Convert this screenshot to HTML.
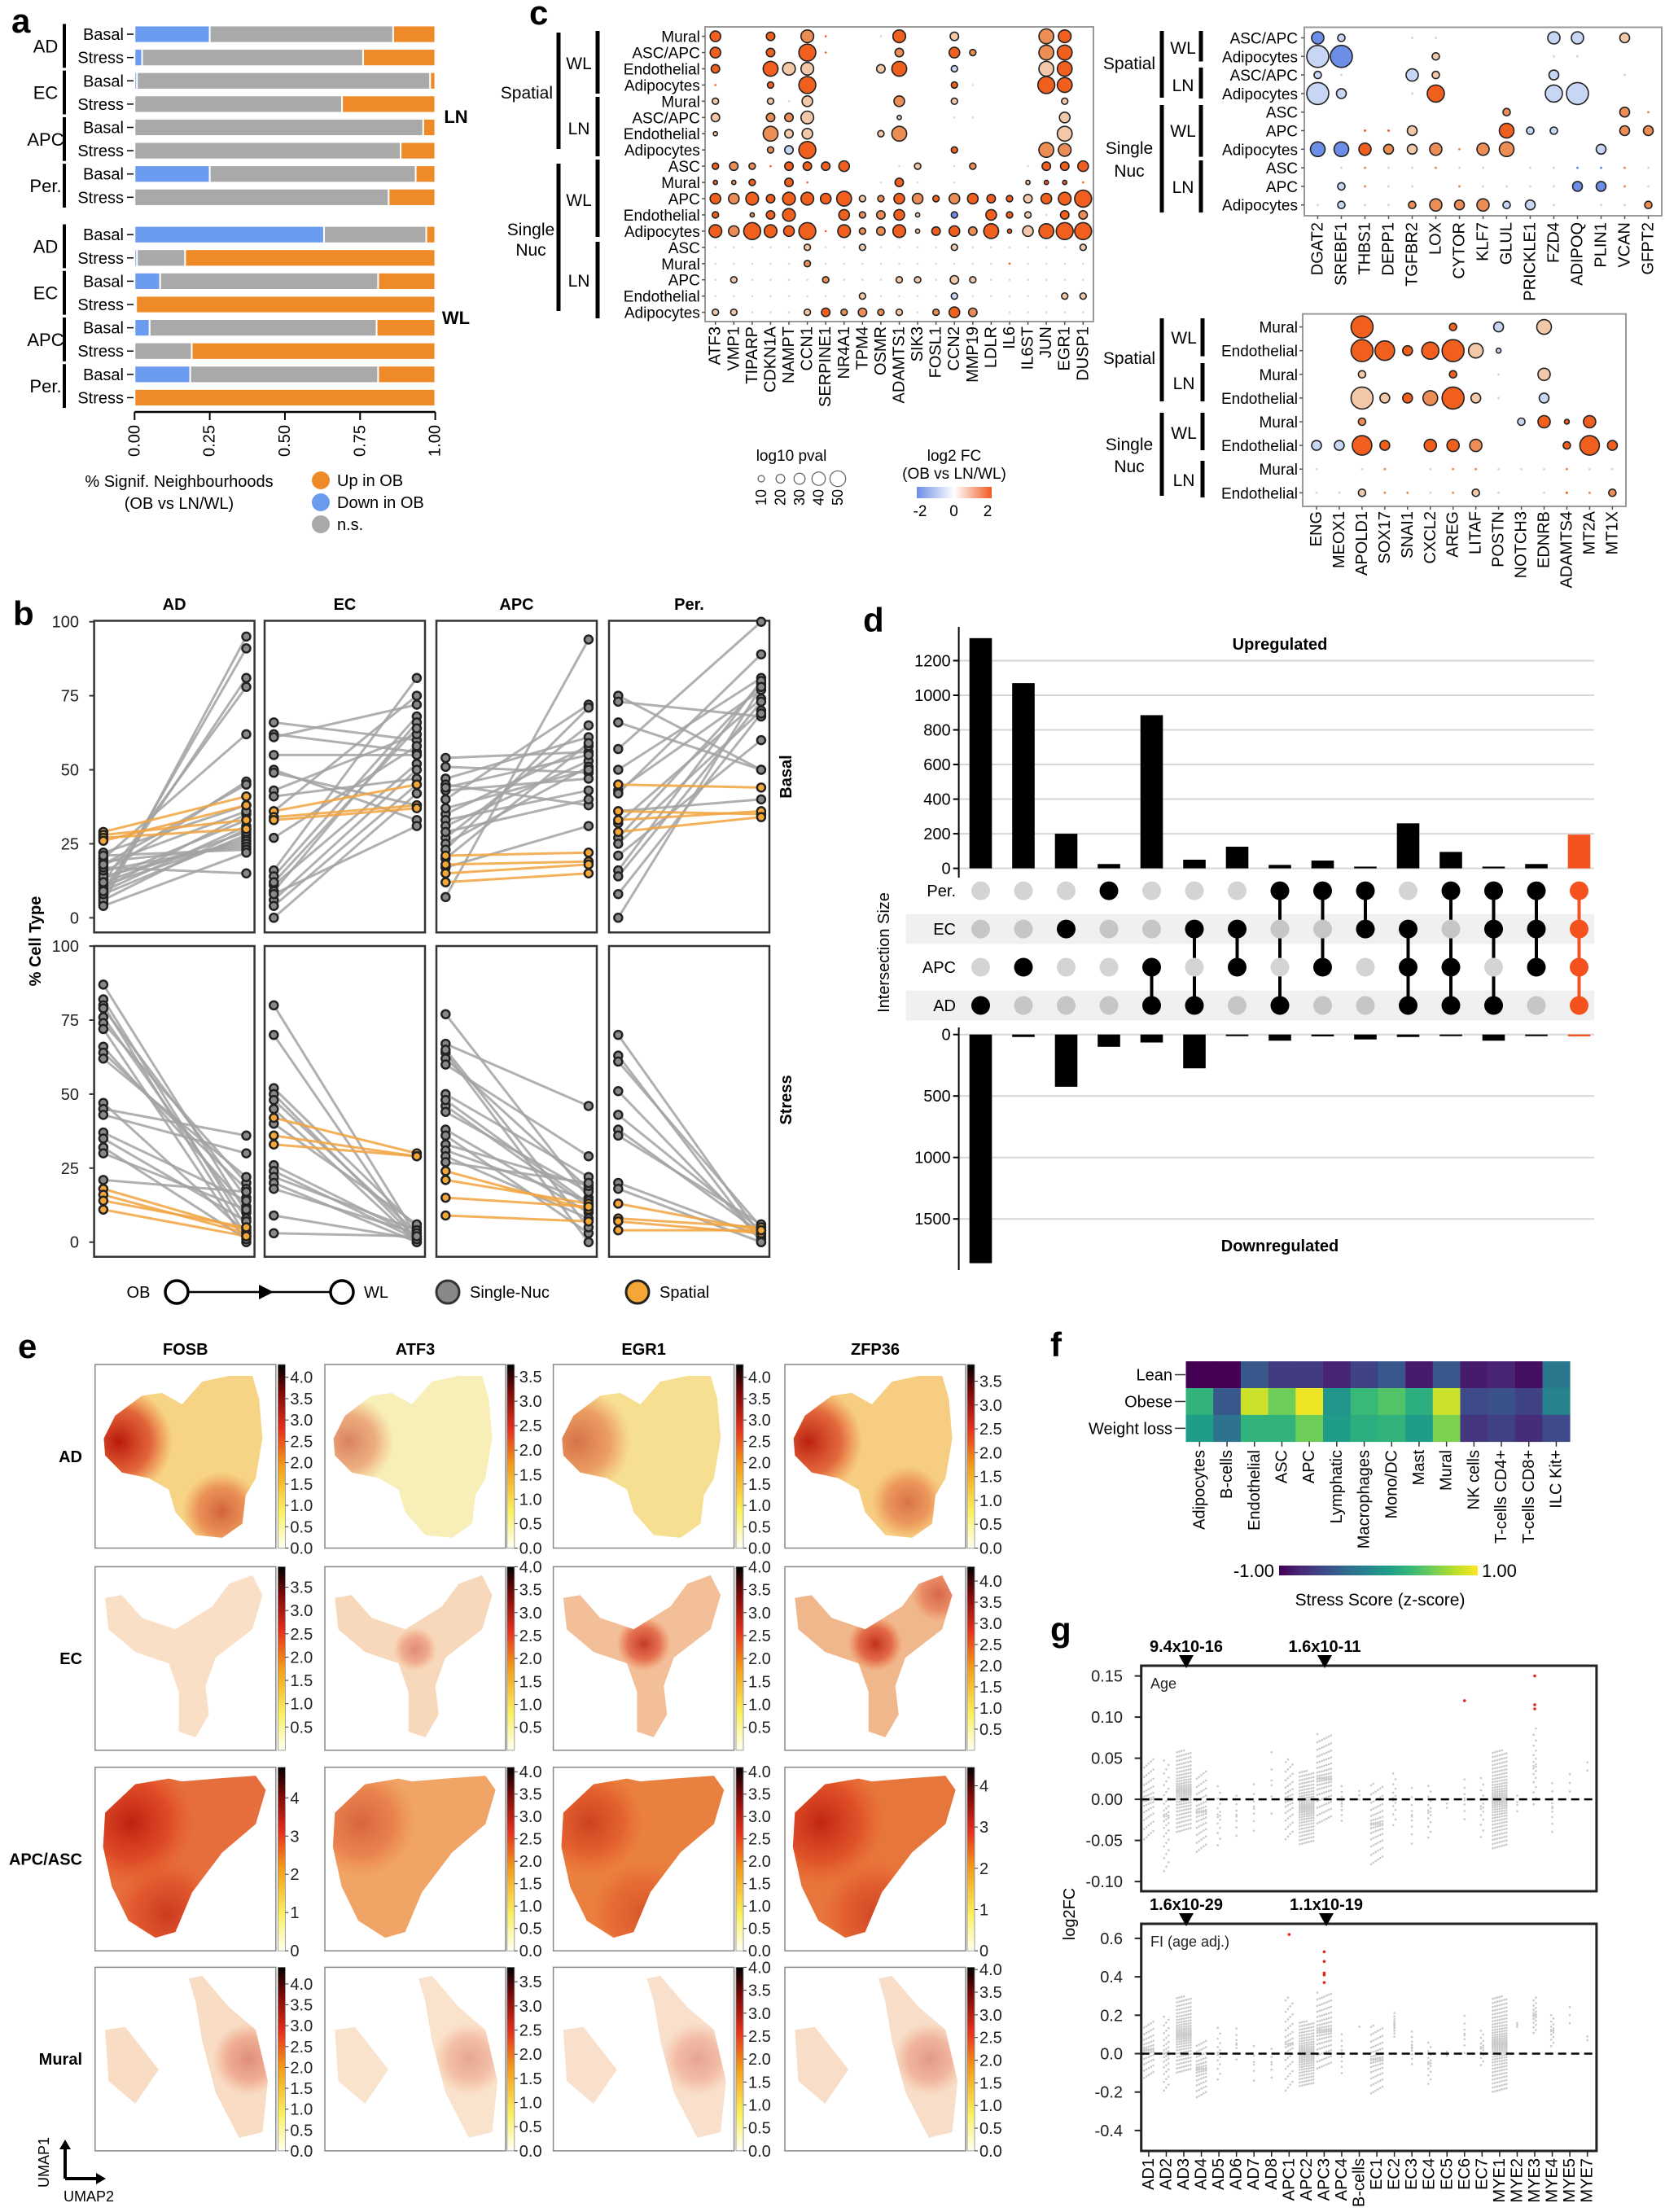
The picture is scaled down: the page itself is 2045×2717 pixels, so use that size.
<!DOCTYPE html>
<html><head><meta charset="utf-8">
<style>
html,body{margin:0;padding:0;background:#fff}
svg{display:block;font-family:"Liberation Sans",Arial,sans-serif}
</style></head>
<body>
<svg id="fig" width="2045" height="2717" viewBox="0 0 2045 2717">
<defs>
<linearGradient id="hotcb" x1="0" y1="1" x2="0" y2="0">
<stop offset="0" stop-color="#fffff2"/><stop offset="0.2" stop-color="#faf060"/><stop offset="0.45" stop-color="#f39c1a"/><stop offset="0.65" stop-color="#e5301c"/><stop offset="0.85" stop-color="#7a0a08"/><stop offset="1" stop-color="#000"/>
</linearGradient>
<linearGradient id="fccb" x1="0" y1="0" x2="1" y2="0"><stop offset="0" stop-color="#6d8ee6"/><stop offset="0.5" stop-color="#ffffff"/><stop offset="1" stop-color="#f15a22"/></linearGradient>
<linearGradient id="vircb" x1="0" y1="0" x2="1" y2="0">
<stop offset="0" stop-color="#440154"/><stop offset="0.11" stop-color="#482878"/><stop offset="0.22" stop-color="#3e4989"/><stop offset="0.33" stop-color="#31688e"/><stop offset="0.44" stop-color="#26828e"/><stop offset="0.55" stop-color="#1f9e89"/><stop offset="0.66" stop-color="#35b779"/><stop offset="0.77" stop-color="#6ece58"/><stop offset="0.88" stop-color="#b5de2b"/><stop offset="1" stop-color="#fde725"/>
</linearGradient>
<radialGradient id="hotR"><stop offset="0" stop-color="#b8180a" stop-opacity="1"/><stop offset="0.6" stop-color="#d9361a" stop-opacity="0.7"/><stop offset="1" stop-color="#e8501c" stop-opacity="0"/></radialGradient>
<radialGradient id="hotO"><stop offset="0" stop-color="#e8581e" stop-opacity="0.9"/><stop offset="1" stop-color="#f08a2c" stop-opacity="0"/></radialGradient>
</defs>
</svg>
<script>
const NS='http://www.w3.org/2000/svg';
const fig=document.getElementById('fig');
const defs=fig.querySelector('defs');
function mk(tag,attrs,parent){const e=document.createElementNS(NS,tag);for(const k in attrs)e.setAttribute(k,attrs[k]);(parent||fig).appendChild(e);return e;}
function tx(str,attrs,parent){const e=mk('text',attrs,parent);e.textContent=str;return e;}
function grp(name){const g=mk('g',{});


return g;}
function rtx(str,x,y,size,parent,anchor){return tx(str,{x:0,y:0,transform:`translate(${x},${y}) rotate(-90)`,'text-anchor':anchor||'end','dominant-baseline':'central','font-size':size},parent);}

/* ================= PANEL A data ================= */
const aCellTypes=['AD','EC','APC','Per.'];
const aConds=['Basal','Stress'];
const aDownLN=[0.25,0.025,0.008,0,0,0,0.25,0];
const aNsLN=[0.61,0.735,0.975,0.69,0.96,0.885,0.685,0.845];
const aDownWL=[0.63,0.008,0.085,0,0.05,0,0.185,0];
const aNsWL=[0.34,0.16,0.725,0.005,0.755,0.19,0.625,0];
const aTicks=['0.00','0.25','0.50','0.75','1.00'];

/* ================= PANEL B data ================= */
const bCells=['AD','EC','APC','Per.'];
const bGreyOB=[
[5,7,9,12,20,15,18,22,10,13,6,8,11,14,16,19,21,4,17,12,9,18],
[66,62,61,55,50,49,43,41,36,27,16,14,11,9,6,4,0,8,12],
[54,51,47,45,43,40,35,33,31,27,25,23,7,20,29,17,44,37],
[75,73,66,57,50,43,42,36,32,27,25,21,16,14,8,0],
[87,82,80,79,76,74,72,66,64,62,47,45,43,37,35,32,30,21],
[80,70,52,50,48,45,40,26,24,22,20,18,9,3],
[77,67,64,62,60,50,46,44,38,36,33,31,29,27,65,48],
[70,63,61,51,43,38,36,20,18]];
const bGreyWL=[
[95,91,81,78,62,46,45,38,35,33,30,28,27,26,25,24,23,22,15,29,31,36],
[60,56,72,55,33,38,62,47,75,58,81,68,52,66,50,45,42,31,64],
[56,49,61,38,47,72,58,43,53,65,51,71,94,59,40,31,55,50],
[50,68,50,100,81,77,89,40,74,79,70,60,80,73,69,78],
[10,5,2,15,8,20,0,12,18,22,3,36,30,14,7,1,11,17],
[2,0,5,1,3,0,6,2,1,4,0,3,1,2],
[15,46,0,18,29,22,12,17,10,3,19,14,8,20,5,13],
[2,0,5,1,4,3,6,2,0]];
const bSpOB=[[29,28,27,26],[36,34,33],[21,18,15,12],[45,36,33,29],[18,16,14,11],[42,36,33],[24,21,15,9],[13,8,7,4]];
const bSpWL=[[41,33,30,38],[45,38,37],[22,19,18,15],[44,35,36,34],[4,3,5,2],[30,29,29],[11,13,12,7],[4,5,3,4]];
const bTicks=[0,25,50,75,100];

/* ================= PANEL C data ================= */
const cGenesL=['ATF3','VMP1','TIPARP','CDKN1A','NAMPT','CCN1','SERPINE1','NR4A1','TPM4','OSMR','ADAMTS1','SIK3','FOSL1','CCN2','MMP19','LDLR','IL6','IL6ST','JUN','EGR1','DUSP1'];
const cRowsL=['Mural','ASC/APC','Endothelial','Adipocytes','Mural','ASC/APC','Endothelial','Adipocytes','ASC','Mural','APC','Endothelial','Adipocytes','ASC','Mural','APC','Endothelial','Adipocytes'];
const cDotsL=[
'5o - - 4o - 6m 1o - - 1f 6o - - 4l - - - - 7m 6o -',
'5o - - 4o - 8o 1o - - - 4m - - 5o 3m - - - 7m 7o -',
'4o - - 7o 6l 6l - - - 4l 7o - - 3b - - - - 7l 7o -',
'1o - - 3o - 8o - - - - - - - 3o 1f - - - 8o 7o -',
'3l - - 3l 1f 5l - - - - 5m - - 3l - - - - - 3l -',
'4l - - 4m 4m 6l - - - - 2l - - 1f 1f - - - - 5l -',
'2l - - 7m 4l 5l - - - 3l 7m - - - - - - - - 7l -',
'- - - 3m 4b 8o - - - - - - - 3o - - - - 7m 6m -',
'3o 4m 3m 1o 4o 4o 4o 5o - - 1f 3l - 1f 3m - - 1f 4o 4o 5o',
'2o 2m 3o - 4o 1o - - - 1f 4o 1f - 1f - - - 2l 2o 2o 1o',
'5o 5m 6o 4o 6o 6o 5o 7o 3l 3m 5o 5m 3o 5m 5o 4o 3o 4l 5o 6o 8o',
'3o - 2m 4o 6o - - 5o 3m 4m 5o 2l - 3B - 5o 3o 3l 1f 4o 4m',
'6o 5m 8o 6o 5o 8o 1o 6o 3m 4m 6o 2l 4o 5o 4m 7o 2o 5l 7o 8o 8o',
'1f 1f 1f 1f 1f 3l 1f 1f 3l 1f 1f 1f 1f 3l 1f 1f 1f 1f 1f 1f 3l',
'1f 1f 1f 1f 1f 3m 1f 1f 1f 1f 1f 1f 1f 1f 1f 1f 1o 1f 1f 1f 1f',
'1f 3l 1f 1f 1f 1f 3m 1f 1f 1f 3l 3l 1f 4l 3l 1f 1f 1f 1f 1f 1f',
'1f 1f 1f 1f 1f 1f 1f 1f 3l 1f 1f 1f 1f 3b 1f 1f 1f 1f 1f 3l 3l',
'3l 3l 1f 1f 1f 3l 4o 3m 4m 3m 3l 1f 3m 5o 4m - 1f 1f 1f 1f 1f'];
const cGenesRT=['DGAT2','SREBF1','THBS1','DEPP1','TGFBR2','LOX','CYTOR','KLF7','GLUL','PRICKLE1','FZD4','ADIPOQ','PLIN1','VCAN','GFPT2'];
const cRowsRT=['ASC/APC','Adipocytes','ASC/APC','Adipocytes','ASC','APC','Adipocytes','ASC','APC','Adipocytes'];
const cDotsRT=[
'5B 3b - - 1f 1f - - - - 5b 5b - 4l -',
'9b 9B - - - 3l - - - - 1f 1f - - -',
'3b 1f - - 5b 3l - - - - 4b - - 1f -',
'9b 4b - - 1f 7o - - - - 7b 9b - - -',
'- - - - - - - - 3m - - - - 4m 1m',
'- - 1o 1o 4l - - - 6o 3b 3b - - 4m 4m',
'6B 6B 5o 4m 4l 5m 1m 5m 6m - - - 4b - -',
'- 1f 1m 1f 1f 1m 1f 1f - 1f 1f 1B 1B 1m 1f',
'- 3b 1m 1f 1f - 1m 1f 1f 1f 1f 4B 4B 1m 1f',
'1f 3b 1f 1f 3m 5m 4m 5m 3b 4b 1f - 1f 1f 3m'];
const cGenesRB=['ENG','MEOX1','APOLD1','SOX17','SNAI1','CXCL2','AREG','LITAF','POSTN','NOTCH3','EDNRB','ADAMTS4','MT2A','MT1X'];
const cRowsRB=['Mural','Endothelial','Mural','Endothelial','Mural','Endothelial','Mural','Endothelial'];
const cDotsRB=[
'- - 9o - - - 3o - 4b - 6l - - -',
'- - 9o 8o 4o 7o 9o 6l 2b - - - - -',
'- - 3l - - - 3o - 1f - 5l - - -',
'- - 9l 4l 4o 6m 9o 4l 1f - 4b - - -',
'- - 3m - - - - - - 3b 5o 2o 5o -',
'4b 4b 8o 4o - 5o 5o 5m - - - 3o 8o 4o',
'1f - 1f 1m - 1f 1m 1m 1f 1f 1f 1m 1f 1f',
'1f 1f 3l 1m 1m 1f 1m 3l 1b - 1f 1o 1m 3m'];
const cPvalLegend=[10,20,30,40,50];
const cFcTicks=['-2','0','2'];

/* ================= PANEL D data ================= */
const dUp=[1330,1070,200,25,885,50,125,20,45,10,260,95,10,25,195];
const dDown=[1860,20,425,100,65,275,5,50,15,40,20,10,50,10,15];
const dSets=['Per.','EC','APC','AD'];
const dPer=[0,0,0,1,0,0,0,1,1,1,0,1,1,1,1];
const dEC =[0,0,1,0,0,1,1,0,0,1,1,0,1,1,1];
const dAPC=[0,1,0,0,1,0,1,0,1,0,1,1,0,1,1];
const dAD =[1,0,0,0,1,1,0,1,0,0,1,1,1,0,1];
const dUpTicks=[0,200,400,600,800,1000,1200];
const dDownTicks=[0,500,1000,1500];

/* ================= PANEL E data ================= */
const eGenes=['FOSB','ATF3','EGR1','ZFP36'];
const eCells=['AD','EC','APC/ASC','Mural'];
const eCbMax=[[4.3,3.75,4.3,3.85],[3.94,4.0,4.0,4.34],[4.8,4.1,4.1,4.45],[4.4,3.8,4.0,4.05]];
const eCbTicks=[[[0,4,0.5,1],[0,3.5,0.5,1],[0,4,0.5,1],[0,3.5,0.5,1]],
[[0.5,3.5,0.5,1],[0.5,4,0.5,1],[0.5,4,0.5,1],[0.5,4,0.5,1]],
[[0,4,1,0],[0,4,0.5,1],[0,4,0.5,1],[0,4,1,0]],
[[0,4,0.5,1],[0,3.5,0.5,1],[0,4,0.5,1],[0,4,0.5,1]]];

/* ================= PANEL F data ================= */
const fCols=['Adipocytes','B-cells','Endothelial','ASC','APC','Lymphatic','Macrophages','Mono/DC','Mast','Mural','NK cells','T-cells CD4+','T-cells CD8+','ILC Kit+'];
const fRows=['Lean','Obese','Weight loss'];
const fLean=[-1,-1,-0.45,-0.65,-0.65,-0.8,-0.6,-0.45,-0.85,-0.45,-0.85,-0.8,-0.92,-0.2];
const fObese=[0.3,-0.45,0.85,0.55,0.95,0.05,0.35,0.45,0.25,0.85,-0.55,-0.5,-0.6,-0.1];
const fWL=[0.1,-0.25,0.3,0.3,0.55,0.1,0.25,0.3,0.1,0.6,-0.7,-0.6,-0.75,-0.55];

/* ================= PANEL G data ================= */
const gCats=['AD1','AD2','AD3','AD4','AD5','AD6','AD7','AD8','APC1','APC2','APC3','APC4','B-cells','EC1','EC2','EC3','EC4','EC5','EC6','EC7','MYE1','MYE2','MYE3','MYE4','MYE5','MYE7'];
const gAgeCenter=[0,-0.02,0.01,-0.015,-0.02,-0.02,-0.01,0.02,0,-0.01,0.025,-0.005,0.005,-0.03,0,-0.02,-0.015,-0.005,0,-0.01,0,-0.005,0.04,-0.01,0.02,0.04];
const gAgeSpread=[0.05,0.07,0.05,0.05,0.04,0.03,0.035,0.05,0.05,0.045,0.055,0.025,0.01,0.05,0.035,0.04,0.035,0.01,0.03,0.04,0.06,0.015,0.05,0.035,0.02,0.015];
const gAgeCount=[60,40,200,70,15,8,8,6,50,200,120,10,3,80,15,10,15,3,8,15,250,4,20,10,3,2];
const gAgeRedCat=[18,22,22,22];
const gAgeRedVal=[0.12,0.15,0.115,0.11];
const gFiCenter=[0.02,0,0.1,-0.08,0,0.05,-0.05,-0.05,0.05,0,0.12,0,0.14,-0.03,0.15,0.03,-0.05,0,0.1,0.03,0.05,0.15,0.2,0.12,0.2,0.08];
const gFiSpread=[0.15,0.2,0.2,0.15,0.15,0.1,0.12,0.1,0.25,0.17,0.2,0.12,0.01,0.18,0.07,0.1,0.12,0.02,0.12,0.1,0.25,0.02,0.1,0.09,0.08,0.03];
const gFiCount=[60,40,200,70,15,8,6,6,50,200,120,10,1,80,12,10,15,3,8,15,250,3,20,15,3,2];
const gFiRedCat=[8,10,10,10,10,10];
const gFiRedVal=[0.62,0.53,0.48,0.42,0.41,0.37];
const gAgeTicks=[0.15,0.10,0.05,0,-0.05,-0.10];
const gFiTicks=[0.6,0.4,0.2,0,-0.2,-0.4];

/* ---------- panel letters ---------- */
const letters=[['a',14,40],['b',16,768],['c',650,30],['d',1060,776],['e',22,1668],['f',1290,1666],['g',1290,2016]];
letters.forEach(l=>{const t=tx(l[0],{x:l[1],y:l[2],'font-size':42,'font-weight':'bold'});

});

/* ================= PANEL A ================= */
(function(){
const g=grp('panel-a-stacked-bars');
const x0=165.3,W=369.3,bh=21.2;
const ax=v=>x0+v*W;
function rowY(grpIdx,i){return ((grpIdx?706:103)+70.1*i)/2.45;}
[[aDownLN,aNsLN,'LN'],[aDownWL,aNsWL,'WL']].forEach((set,gi)=>{
 for(let i=0;i<8;i++){
  const y=rowY(gi,i);const d=set[0][i],n=set[1][i],u=Math.max(0,1-d-n);
  let acc=0;
  [[d,'#6b9bef','down'],[n,'#a9a9a9','ns'],[u,'#ef8a28','up']].forEach(s=>{
   if(s[0]>0){const r=mk('rect',{x:ax(acc),y:y-bh/2,width:s[0]*W,height:bh,fill:s[1],stroke:'#fff','stroke-width':2},g);
   
   }
   acc+=s[0];});
  const l=tx(aConds[i%2],{x:152,y:y+7,'text-anchor':'end','font-size':20},g);
  
  
  mk('line',{x1:156,x2:164,y1:y,y2:y,stroke:'#000','stroke-width':1.5},g);
 }
 for(let c=0;c<4;c++){
  const yt=rowY(gi,2*c)-bh/2-2,yb=rowY(gi,2*c+1)+bh/2+2;
  mk('rect',{x:77,y:yt,width:4,height:yb-yt,fill:'#000'},g);
  const cl=tx(aCellTypes[c],{x:56,y:(yt+yb)/2+8,'text-anchor':'middle','font-size':22},g);
  
  
 }
 const gl=tx(set[2],{x:560,y:gi?398:151,'text-anchor':'middle','font-size':22,'font-weight':'bold'},g);
 
 
});
mk('line',{x1:x0,x2:x0+W,y1:506,y2:506,stroke:'#000','stroke-width':2.5},g);
aTicks.forEach((t,i)=>{const x=ax(i/4);mk('line',{x1:x,x2:x,y1:506,y2:516,stroke:'#000','stroke-width':2},g);
 const tl=rtx(t,x,522,20,g,'end');
 
 });
const t1=tx('% Signif. Neighbourhoods',{x:220,y:598,'text-anchor':'middle','font-size':20},g);


tx('(OB vs LN/WL)',{x:220,y:625,'text-anchor':'middle','font-size':20},g);
[['Up in OB','#ef8a28',590],['Down in OB','#6b9bef',617],['n.s.','#a9a9a9',644]].forEach(l=>{
 const c=mk('circle',{cx:394,cy:l[2],r:11,fill:l[1]},g);
 
 
 const t=tx(l[0],{x:414,y:l[2]+7,'font-size':20},g);
 
 });
})();

/* ================= PANEL B ================= */
(function(){
const g=grp('panel-b-paired-lines');
const lefts=[115.6,325,536,748],W=197;
const rows=[[762.5,1145.3,1127.3],[1162,1543.7,1525.7]];
const sy=(r,v)=>rows[r][2]-v*3.636;
for(let r=0;r<2;r++)for(let c=0;c<4;c++){
 const p=r*4+c,L=lefts[c];
 const fr=mk('rect',{x:L,y:rows[r][0],width:W,height:rows[r][1]-rows[r][0],fill:'none',stroke:'#333','stroke-width':2.5},g);
 
 
 const xl=L+11.3,xr=L+186.9;
 [[bGreyOB[p],bGreyWL[p],'#a3a3a3','#888'],[bSpOB[p],bSpWL[p],'#f2a440','#f4a636']].forEach(s=>{
  s[0].forEach((v,i)=>{
   const ln=mk('line',{x1:xl,y1:sy(r,v),x2:xr,y2:sy(r,s[1][i]),stroke:s[2],'stroke-width':3,opacity:0.85},g);
   
   
  });
 });
 [[bGreyOB[p],bGreyWL[p],'#888'],[bSpOB[p],bSpWL[p],'#f4a636']].forEach(s=>{
  s[0].forEach((v,i)=>{
   const a=mk('circle',{cx:xl,cy:sy(r,v),r:5,fill:s[2],stroke:'#222','stroke-width':2.5},g);
   
   
   const b=mk('circle',{cx:xr,cy:sy(r,s[1][i]),r:5,fill:s[2],stroke:'#222','stroke-width':2.5},g);
   
   
  });
 });
 if(c===0){bTicks.forEach(t=>{mk('line',{x1:L-6,x2:L,y1:sy(r,t),y2:sy(r,t),stroke:'#333','stroke-width':2},g);
  const tl=tx(String(t),{x:97,y:sy(r,t)+7,'text-anchor':'end','font-size':20,fill:'#222'},g);
  
  });}
 if(r===0){const tt=tx(bCells[c],{x:L+W/2,y:749,'text-anchor':'middle','font-size':20,'font-weight':'bold'},g);
  
  }
}
const s1=rtx('Basal',966,954,20,g,'middle');s1.setAttribute('font-weight','bold');


const s2=rtx('Stress',966,1351,20,g,'middle');s2.setAttribute('font-weight','bold');


const yl=rtx('% Cell Type',44,1156,20,g,'middle');yl.setAttribute('font-weight','bold');


const ly=1587;
tx('OB',{x:170,y:ly+7,'text-anchor':'middle','font-size':20},g);
mk('line',{x1:231,x2:406,y1:ly,y2:ly,stroke:'#000','stroke-width':2.5},g);
mk('polygon',{points:`${318},${ly-9} ${336},${ly} ${318},${ly+9}`,fill:'#000'},g);
mk('circle',{cx:217,cy:ly,r:14,fill:'#fff',stroke:'#000','stroke-width':3.5},g);
mk('circle',{cx:420,cy:ly,r:14,fill:'#fff',stroke:'#000','stroke-width':3.5},g);
tx('WL',{x:462,y:ly+7,'text-anchor':'middle','font-size':20},g);
const l1=mk('circle',{cx:550,cy:ly,r:14,fill:'#888',stroke:'#333','stroke-width':3},g);


tx('Single-Nuc',{x:577,y:ly+7,'font-size':20},g);
const l2=mk('circle',{cx:783,cy:ly,r:14,fill:'#f4a636',stroke:'#222','stroke-width':3},g);


tx('Spatial',{x:810,y:ly+7,'font-size':20},g);
})();

/* ================= PANEL C ================= */
const cCol={o:'#f15f1f',m:'#eb8d55',l:'#f3c8a8',b:'#c8d6f5',B:'#6d8ee6',f:'#e9d3c6'};
function dotplot(name,genes,rows,dots,fx,fy,x0,dx,y0,dy,rs,labelX,geneY,fs){
 const g=grp(name);
 mk('rect',{x:fx[0],y:fy[0],width:fx[1]-fx[0],height:fy[1]-fy[0],fill:'#fff',stroke:'#999','stroke-width':2},g);
 rows.forEach((rn,ri)=>{
  const y=y0+ri*dy;
  const t=tx(rn,{x:labelX,y:y+7,'text-anchor':'end','font-size':fs},g);
  
  
  mk('line',{x1:fx[0]-4,x2:fx[0],y1:y,y2:y,stroke:'#555','stroke-width':1.5},g);
  dots[ri].split(' ').forEach((tok,gi)=>{
   if(tok==='-')return;
   const n=parseFloat(tok),col=cCol[tok.slice(-1)];
   const c=mk('circle',{cx:x0+gi*dx,cy:y,r:n*rs,fill:col,stroke:n>1?'#222':'none','stroke-width':1.6},g);
   
   
  });
 });
 genes.forEach((gn,gi)=>{const x=x0+gi*dx;
  mk('line',{x1:x,x2:x,y1:fy[1],y2:fy[1]+4,stroke:'#555','stroke-width':1.5},g);
  const t=rtx(gn,x,geneY,fs+1,g,'end');
  
  });
 return g;
}
function groupBar(g,x,y1,y2){mk('rect',{x:x-2.5,y:y1,width:5,height:y2-y1,fill:'#000'},g);}
(function(){
const g=dotplot('panel-c-dotplot-left',cGenesL,cRowsL,cDotsL,[866,1343],[33,395],878.7,22.58,44.6,19.94,1.3,859.8,401,19);
groupBar(g,686,40,183);groupBar(g,686,201,382);
groupBar(g,734,38,115);groupBar(g,734,119,192);groupBar(g,734,196,291);groupBar(g,734,297,391);
[['WL',77],['LN',157],['WL',245],['LN',344]].forEach(l=>tx(l[0],{x:711,y:l[1]+8,'text-anchor':'middle','font-size':21},g));
tx('Spatial',{x:679,y:121,'text-anchor':'end','font-size':21},g);
tx('Single',{x:652,y:289,'text-anchor':'middle','font-size':21},g);
tx('Nuc',{x:652,y:314,'text-anchor':'middle','font-size':21},g);
const g2=dotplot('panel-c-dotplot-right-top',cGenesRT,cRowsRT,cDotsRT,[1602,2041],[33.5,265],1618.5,29,46.5,22.8,1.5,1594,273,19);
groupBar(g2,1427,38,120);groupBar(g2,1427,129,261);
groupBar(g2,1475,38,75.5);groupBar(g2,1475,83,121);groupBar(g2,1475,129,192.6);groupBar(g2,1475,197,261);
[['WL',58],['LN',104],['WL',160],['LN',229]].forEach(l=>tx(l[0],{x:1453,y:l[1]+8,'text-anchor':'middle','font-size':21},g2));
tx('Spatial',{x:1387,y:85,'text-anchor':'middle','font-size':21},g2);
tx('Single',{x:1387,y:189,'text-anchor':'middle','font-size':21},g2);
tx('Nuc',{x:1387,y:217,'text-anchor':'middle','font-size':21},g2);
const g3=dotplot('panel-c-dotplot-right-bottom',cGenesRB,cRowsRB,cDotsRB,[1600,1997],[385.6,622],1617,27.95,401.6,29.1,1.5,1594,628,19);
groupBar(g3,1427,391,493);groupBar(g3,1427,507,609);
groupBar(g3,1477,391,437.6);groupBar(g3,1477,446,493);groupBar(g3,1477,507,553);groupBar(g3,1477,566,611);
[['WL',414],['LN',470],['WL',531],['LN',589]].forEach(l=>tx(l[0],{x:1454,y:l[1]+8,'text-anchor':'middle','font-size':21},g3));
tx('Spatial',{x:1387,y:447,'text-anchor':'middle','font-size':21},g3);
tx('Single',{x:1387,y:553,'text-anchor':'middle','font-size':21},g3);
tx('Nuc',{x:1387,y:580,'text-anchor':'middle','font-size':21},g3);
const lg=grp('panel-c-legend');
tx('log10 pval',{x:972,y:566,'text-anchor':'middle','font-size':19},lg);
cPvalLegend.forEach((v,i)=>{const x=935+i*23.5;
 const c=mk('circle',{cx:x,cy:588,r:2.5+v/7,fill:'#fff',stroke:'#666','stroke-width':1.3},lg);
 
 
 rtx(String(v),x,601,18,lg,'end');});
tx('log2 FC',{x:1172,y:566,'text-anchor':'middle','font-size':19},lg);
tx('(OB vs LN/WL)',{x:1172,y:588,'text-anchor':'middle','font-size':19},lg);
const cb=mk('rect',{x:1126,y:598,width:92,height:14,fill:'url(#fccb)'},lg);


cFcTicks.forEach((t,i)=>tx(t,{x:1130+i*41.5,y:634,'text-anchor':'middle','font-size':19},lg));
})();

/* ================= PANEL D ================= */
(function(){
const g=grp('panel-d-upset');
const x0=1204.5,dx=52.5,bw=27.6,ax=1177.6,right=1958;
const upY=v=>1066.6-v*0.2126, dnY=v=>1270.7+v*0.151;
const rowY=[1094.1,1141.1,1188,1235];
mk('rect',{x:1112.7,y:1122.7,width:right-1112.7,height:36.8,fill:'#f0f0f0'},g);
mk('rect',{x:1112.7,y:1216.6,width:right-1112.7,height:36.8,fill:'#f0f0f0'},g);
dUpTicks.forEach(t=>{mk('line',{x1:ax,x2:right,y1:upY(t),y2:upY(t),stroke:'#d6d6d6','stroke-width':2},g);
 mk('line',{x1:ax-7,x2:ax,y1:upY(t),y2:upY(t),stroke:'#000','stroke-width':2},g);
 const l=tx(String(t),{x:ax-10,y:upY(t)+7,'text-anchor':'end','font-size':20},g);
 
 });
dDownTicks.forEach(t=>{mk('line',{x1:ax,x2:right,y1:dnY(t),y2:dnY(t),stroke:'#d6d6d6','stroke-width':2},g);
 mk('line',{x1:ax-7,x2:ax,y1:dnY(t),y2:dnY(t),stroke:'#000','stroke-width':2},g);
 const l=tx(String(t),{x:ax-10,y:dnY(t)+7,'text-anchor':'end','font-size':20},g);
 
 });
mk('line',{x1:ax,x2:ax,y1:770,y2:1078,stroke:'#000','stroke-width':2},g);
mk('line',{x1:ax,x2:ax,y1:1262,y2:1560,stroke:'#000','stroke-width':2},g);
const mem=[dPer,dEC,dAPC,dAD];
dUp.forEach((v,i)=>{const x=x0+i*dx;const col=i===dUp.length-1?'#f4511e':'#000';
 const b=mk('rect',{x:x-bw/2,y:upY(v),width:bw,height:upY(0)-upY(v),fill:col},g);
 
 
 const d=mk('rect',{x:x-bw/2,y:dnY(0),width:bw,height:Math.max(2,dnY(dDown[i])-dnY(0)),fill:col},g);
 
 
 const act=[];mem.forEach((m,r)=>{if(m[i])act.push(r);});
 if(act.length>1){const ln=mk('line',{x1:x,x2:x,y1:rowY[act[0]],y2:rowY[act[act.length-1]],stroke:col,'stroke-width':4},g);
  
  }
 mem.forEach((m,r)=>{const c=mk('circle',{cx:x,cy:rowY[r],r:11.5,fill:m[i]?col:(r%2?'#c6c6c6':'#d4d4d4')},g);
  
  });
});
dSets.forEach((s,r)=>{const l=tx(s,{x:1174,y:rowY[r]+7,'text-anchor':'end','font-size':20},g);
 
 });
tx('Upregulated',{x:1572,y:798,'text-anchor':'middle','font-size':20,'font-weight':'bold'},g);
tx('Downregulated',{x:1572,y:1537,'text-anchor':'middle','font-size':20,'font-weight':'bold'},g);
const yt=rtx('Intersection Size',1086,1170,20,g,'middle');


})();

/* ================= PANEL E ================= */
(function(){
const g=grp('panel-e-umaps');
const xs=[116.8,399,679.6,964],W=222,ys=[1676,1924.4,2170.7,2416.4],H=225.5,cbx=[341.4,622.8,904,1188];
const shapes=[
[[[13,130],[30,90],[70,55],[100,50],[130,70],[160,30],[200,20],[235,20],[245,60],[250,130],[240,200],[225,230],[220,280],[190,305],[150,300],[120,260],[110,220],[80,200],[40,190],[15,160]]],
[[[15,55],[40,50],[70,90],[120,110],[175,70],[200,30],[235,15],[250,50],[235,110],[180,160],[165,210],[170,260],[150,300],[125,290],[125,220],[110,170],[60,150],[20,110]]],
[[[15,80],[60,30],[110,20],[130,25],[180,20],[240,15],[255,40],[240,100],[190,150],[145,220],[120,290],[90,300],[50,270],[25,210],[12,140]]],
[[[15,110],[45,105],[95,180],[60,240],[20,200]],[[140,20],[160,15],[200,70],[240,110],[258,200],[250,290],[215,300],[180,220],[160,130],[150,60]]]];
const base=[['#f6cf78','#f7ebab','#f6dc86','#f5c873'],['#eea25a','#eea25a','#e98a45','#e98a45'],['#e4622c','#ee9a55','#e8752f','#e56a2c'],['#ec9a55','#efa860','#eca060','#eca060']];
const baseOp=[[0.9,0.85,0.9,0.9],[0.35,0.42,0.55,0.62],[0.92,0.9,0.92,0.92],[0.35,0.32,0.32,0.35]];
const hot=[[[[0.13,0.42,0.3,1],[0.7,0.8,0.22,0.6]],[[0.13,0.42,0.25,0.5]],[[0.13,0.42,0.3,0.55]],[[0.13,0.42,0.3,0.95],[0.68,0.75,0.2,0.5]]],
[[],[[0.5,0.45,0.12,0.4]],[[0.5,0.42,0.15,0.8]],[[0.5,0.42,0.15,0.85],[0.85,0.15,0.15,0.5]]],
[[[0.2,0.3,0.35,0.9],[0.4,0.8,0.3,0.6]],[[0.2,0.3,0.3,0.45]],[[0.2,0.3,0.3,0.6],[0.5,0.8,0.3,0.4]],[[0.2,0.3,0.35,0.85],[0.5,0.8,0.3,0.5]]],
[[[0.85,0.5,0.2,0.4]],[[0.8,0.5,0.2,0.3]],[[0.8,0.5,0.2,0.3]],[[0.8,0.5,0.2,0.35]]]];
eGenes.forEach((gn,c)=>{const t=tx(gn,{x:xs[c]+W/2,y:1664,'text-anchor':'middle','font-size':20,'font-weight':'bold'},g);
 
 });
eCells.forEach((cn,r)=>{const t=tx(cn,{x:101,y:ys[r]+H/2+7,'text-anchor':'end','font-size':20,'font-weight':'bold'},g);
 
 });
for(let r=0;r<4;r++)for(let c=0;c<4;c++){
 const X=xs[c],Y=ys[r];
 const fr=mk('rect',{x:X,y:Y,width:W,height:H,fill:'#fff',stroke:'#888','stroke-width':1.5},g);
 
 
 const cid='clip'+r+c;const cp=mk('clipPath',{id:cid},defs);
 const pts=shapes[r].map(poly=>poly.map(p=>`${X+p[0]/270*W},${Y+p[1]/323*H}`).join(' '));
 pts.forEach(p=>mk('polygon',{points:p},cp));
 const blob=mk('g',{'clip-path':`url(#${cid})`},g);
 
 
 mk('rect',{x:X,y:Y,width:W,height:H,fill:base[r][c],opacity:baseOp[r][c]},blob);
 hot[r][c].forEach(h=>mk('circle',{cx:X+h[0]*W,cy:Y+h[1]*H,r:h[2]*W,fill:'url(#hotR)',opacity:h[3]},blob));
 const cb=mk('rect',{x:cbx[c],y:Y,width:9,height:H,fill:'url(#hotcb)',stroke:'#888','stroke-width':0.8},g);
 
 
 const tk=eCbTicks[r][c],mx=eCbMax[r][c];
 for(let v=tk[0];v<=tk[1]+1e-9;v+=tk[2]){const y=Y+H-v/mx*H;
  mk('line',{x1:cbx[c]+9,x2:cbx[c]+13,y1:y,y2:y,stroke:'#333','stroke-width':1},g);
  tx(v.toFixed(tk[3]),{x:cbx[c]+15,y:y+7,'font-size':20,fill:'#222'},g);}
}
mk('path',{d:'M80,2676 L80,2636 M80,2676 L122,2676',stroke:'#000','stroke-width':4,fill:'none'},g);
mk('polygon',{points:'73,2640 80,2628 87,2640',fill:'#000'},g);
mk('polygon',{points:'118,2669 130,2676 118,2683',fill:'#000'},g);
rtx('UMAP1',54,2656,18,g,'middle');
tx('UMAP2',{x:109,y:2704,'text-anchor':'middle','font-size':18},g);
})();

/* ================= PANEL F ================= */
function viridis(v){const st=['#440154','#482878','#3e4989','#31688e','#26828e','#1f9e89','#35b779','#6ece58','#b5de2b','#fde725'];
 let t=(Math.max(-1,Math.min(1,v))+1)/2*(st.length-1);const i=Math.min(st.length-2,Math.floor(t)),f=t-i;
 const a=st[i],b=st[i+1];const h=(s,k)=>parseInt(s.substr(1+2*k,2),16);
 return 'rgb('+[0,1,2].map(k=>Math.round(h(a,k)+(h(b,k)-h(a,k))*f)).join(',')+')';}
(function(){
const g=grp('panel-f-heatmap');
const x0=1456.5,cw=33.7,y0=1672.1,rh=32.9;
[fLean,fObese,fWL].forEach((row,ri)=>{
 row.forEach((v,ci)=>{const r=mk('rect',{x:x0+ci*cw,y:y0+ri*rh,width:cw+0.3,height:rh+0.3,fill:viridis(v)},g);
  
  });
 const l=tx(fRows[ri],{x:1440,y:y0+ri*rh+rh/2+7,'text-anchor':'end','font-size':20},g);
 
 
 mk('line',{x1:1443,x2:1456,y1:y0+ri*rh+rh/2,y2:y0+ri*rh+rh/2,stroke:'#333','stroke-width':1.5},g);
});
fCols.forEach((c,ci)=>{const x=x0+ci*cw+cw/2;
 mk('line',{x1:x,x2:x,y1:y0+3*rh,y2:y0+3*rh+6,stroke:'#333','stroke-width':1.5},g);
 const l=rtx(c,x,1781,20,g,'end');
 
 });
const cb=mk('rect',{x:1571,y:1923,width:244,height:12,fill:'url(#vircb)'},g);


tx('-1.00',{x:1565,y:1937,'text-anchor':'end','font-size':22},g);
tx('1.00',{x:1820,y:1937,'font-size':22},g);
tx('Stress Score (z-score)',{x:1695,y:1972,'text-anchor':'middle','font-size':21},g);
})();

/* ================= PANEL G ================= */
(function(){
const g=grp('panel-g-strip-plots');
const x0=1410.9,dx=21.55,L=1401.7,R=1960.9;
const yAge=v=>2210.1-v/0.05*50.5, yFi=v=>2522.5-v/0.2*47.2;
function strip(centers,spreads,counts,redCat,redVal,ys,top,bot,ticks,fmt,label,ann){
 mk('rect',{x:L,y:top,width:R-L,height:bot-top,fill:'#fff',stroke:'#222','stroke-width':3},g);
 centers.forEach((c,j)=>{const n=counts[j],h=spreads[j],cols=Math.min(7,Math.max(1,Math.ceil(n/14)));
  for(let i=0;i<n;i++){const q=(i+0.5)/n,s=2*q-1;const v=c+h*Math.sign(s)*Math.pow(Math.abs(s),1.6);
   const k=i%cols;const ox=(k-(cols-1)/2)*2.8;
   const d=mk('circle',{cx:x0+j*dx+ox,cy:ys(v),r:1.3,fill:'#c9c9c9'},g);
   
   }
 });
 redCat.forEach((j,i)=>{const d=mk('circle',{cx:x0+j*dx,cy:ys(redVal[i]),r:1.8,fill:'#e8231a'},g);
  
  });
 mk('line',{x1:L,x2:R,y1:ys(0),y2:ys(0),stroke:'#000','stroke-width':2.5,'stroke-dasharray':'10,6'},g);
 ticks.forEach(t=>{mk('line',{x1:L-8,x2:L,y1:ys(t),y2:ys(t),stroke:'#222','stroke-width':2},g);
  const l=tx(fmt(t),{x:1379,y:ys(t)+7,'text-anchor':'end','font-size':20,fill:'#222'},g);
  
  });
 tx(label,{x:1413,y:top+28,'font-size':18,fill:'#222'},g);
 ann.forEach(a=>{tx(a[0],{x:a[1],y:top-17,'text-anchor':'middle','font-size':20,'font-weight':'bold'},g);
  mk('polygon',{points:`${a[1]-9},${top-13} ${a[1]+9},${top-13} ${a[1]},${top+3}`,fill:'#000'},g);});
}
strip(gAgeCenter,gAgeSpread,gAgeCount,gAgeRedCat,gAgeRedVal,yAge,2046,2323,gAgeTicks,t=>t.toFixed(2),'Age',[['9.4x10-16',1457],['1.6x10-11',1627]]);
strip(gFiCenter,gFiSpread,gFiCount,gFiRedCat,gFiRedVal,yFi,2363,2642,gFiTicks,t=>t.toFixed(1),'FI (age adj.)',[['1.6x10-29',1457],['1.1x10-19',1629]]);
gCats.forEach((c,j)=>{const x=x0+j*dx;mk('line',{x1:x,x2:x,y1:2642,y2:2649,stroke:'#222','stroke-width':1.5},g);
 const l=rtx(c,x,2651,20,g,'end');
 
 });
const yl=rtx('log2FC',1314,2351,20,g,'middle');


})();
</script>
</body></html>
